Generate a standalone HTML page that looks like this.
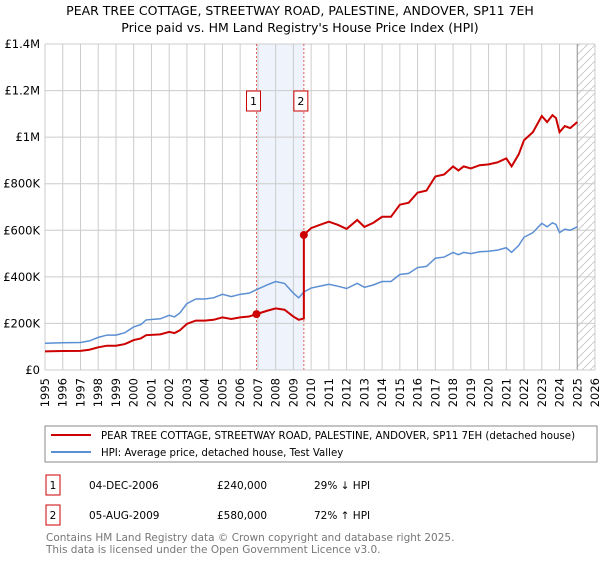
<!DOCTYPE html>
<html><head><meta charset="utf-8"><style>
body{margin:0;background:#fff;}
svg text{font-family:"DejaVu Sans","Liberation Sans",sans-serif;}
</style></head><body>
<svg id="chart" width="600" height="560" xmlns="http://www.w3.org/2000/svg">
<text x="300" y="15" text-anchor="middle" font-size="12.5" fill="#000">PEAR TREE COTTAGE, STREETWAY ROAD, PALESTINE, ANDOVER, SP11 7EH</text>
<text x="300" y="32" text-anchor="middle" font-size="12.5" fill="#000">Price paid vs. HM Land Registry's House Price Index (HPI)</text>
<g id="plot"></g>
<g>
<rect x="45" y="426" width="552" height="36" fill="#fff" stroke="#888"/>
<line x1="51" y1="435" x2="91" y2="435" stroke="#cc0000" stroke-width="2"/>
<text x="101" y="439" font-size="10.2">PEAR TREE COTTAGE, STREETWAY ROAD, PALESTINE, ANDOVER, SP11 7EH (detached house)</text>
<line x1="51" y1="452" x2="91" y2="452" stroke="#5b8fd4" stroke-width="2"/>
<text x="101" y="456" font-size="10.2">HPI: Average price, detached house, Test Valley</text>
</g>
<g font-size="10.5">
<rect x="46" y="475" width="14" height="20" fill="#fff" stroke="#cc0000"/>
<text x="53" y="489" text-anchor="middle">1</text>
<text x="89" y="489">04-DEC-2006</text><text x="217" y="489">£240,000</text><text x="314" y="489">29% ↓ HPI</text>
<rect x="46" y="505" width="14" height="20" fill="#fff" stroke="#cc0000"/>
<text x="53" y="519" text-anchor="middle">2</text>
<text x="89" y="519">05-AUG-2009</text><text x="217" y="519">£580,000</text><text x="314" y="519">72% ↑ HPI</text>
</g>
<text x="46" y="541" font-size="10.5" fill="#777">Contains HM Land Registry data © Crown copyright and database right 2025.</text>
<text x="46" y="553" font-size="10.5" fill="#777">This data is licensed under the Open Government Licence v3.0.</text>
</svg>
<script>
const yearTicks=[1995,1996,1997,1998,1999,2000,2001,2002,2003,2004,2005,2006,2007,2008,2009,2010,2011,2012,2013,2014,2015,2016,2017,2018,2019,2020,2021,2022,2023,2024,2025,2026];
const valueTicks=[0,200000,400000,600000,800000,1000000,1200000,1400000];
const valueLabels=["£0","£200K","£400K","£600K","£800K","£1M","£1.2M","£1.4M"];
const hpiDates=[1995,1996,1997,1997.5,1998,1998.5,1999,1999.5,2000,2000.4,2000.7,2001.5,2002,2002.3,2002.6,2003,2003.5,2004,2004.5,2005,2005.5,2006,2006.5,2006.92,2007.5,2008,2008.5,2009,2009.3,2009.59,2010,2010.5,2011,2011.5,2012,2012.6,2013,2013.5,2014,2014.5,2015,2015.5,2016,2016.5,2017,2017.5,2018,2018.3,2018.6,2019,2019.5,2020,2020.5,2021,2021.3,2021.7,2022,2022.5,2023,2023.3,2023.6,2023.8,2024,2024.3,2024.6,2025];
const hpiValues=[115000,117000,118000,125000,140000,150000,150000,160000,185000,195000,215000,220000,235000,228000,245000,285000,305000,305000,310000,325000,315000,325000,330000,345000,365000,380000,372000,330000,310000,335000,352000,360000,368000,360000,350000,372000,355000,365000,380000,380000,410000,415000,440000,445000,480000,485000,505000,495000,505000,500000,508000,510000,515000,525000,505000,535000,570000,590000,630000,615000,632000,625000,590000,605000,600000,615000];
const saleDates=[2006.92,2009.59];
const salePrices=[240000,580000];
const saleLabels=["1","2"];

const NS="http://www.w3.org/2000/svg";
const X0=45,X1=595,Y0=370,Y1=44;
const xs=y=>X0+(y-1995)/(2026-1995)*(X1-X0);
const ys=v=>Y0-v/1400000*(Y0-Y1);
const g=document.getElementById('plot');
function mk(t,a,p){const e=document.createElementNS(NS,t);for(const k in a)e.setAttribute(k,a[k]);(p||g).appendChild(e);return e;}
function hpiAt(t){for(let i=1;i<hpiDates.length;i++){if(t<=hpiDates[i]){const f=(t-hpiDates[i-1])/(hpiDates[i]-hpiDates[i-1]);return hpiValues[i-1]+f*(hpiValues[i]-hpiValues[i-1]);}}return hpiValues[hpiValues.length-1];}

let sh=mk('rect',{x:xs(saleDates[0]),y:Y1,width:xs(saleDates[1])-xs(saleDates[0]),height:Y0-Y1,fill:'#eef3fc'});


valueTicks.forEach((v,i)=>{
 let l=mk('line',{x1:X0,x2:X1,y1:ys(v),y2:ys(v),stroke:'#ccc','stroke-width':1});
 
 
 let t=mk('text',{x:X0-5,y:ys(v)+4,'text-anchor':'end','font-size':11.5});
 
 
 t.textContent=valueLabels[i];
});
yearTicks.forEach(y=>{
 let l=mk('line',{x1:xs(y),x2:xs(y),y1:Y1,y2:Y0,stroke:'#ccc','stroke-width':1});
 
 
 let t=mk('text',{x:0,y:0,'text-anchor':'end','font-size':11.5,transform:`translate(${xs(y)+4},${Y0+8}) rotate(-90)`});
 
 
 t.textContent=y;
});
const lastX=xs(hpiDates[hpiDates.length-1]);
let defs=mk('defs',{});
let pat=mk('pattern',{id:'hatch',width:8,height:8,patternUnits:'userSpaceOnUse'},defs);
mk('path',{d:'M0,8 L8,0',stroke:'#ccc','stroke-width':1},pat);
let hr=mk('rect',{x:lastX,y:Y1,width:X1-lastX,height:Y0-Y1,fill:'url(#hatch)'});


let vl=mk('line',{x1:lastX,x2:lastX,y1:Y1,y2:Y0,stroke:'#999','stroke-width':1});


saleDates.forEach((d,i)=>{
 let l=mk('line',{x1:xs(d),x2:xs(d),y1:Y1,y2:Y0,stroke:'#e06060','stroke-width':1,'stroke-dasharray':'2,2'});
 
 
 let bx=xs(d)-10;
 let r=mk('rect',{x:bx,y:91,width:14,height:20,fill:'#fff',stroke:'#cc0000'});
 
 
 let t=mk('text',{x:bx+7,y:105,'text-anchor':'middle','font-size':11});
 
 
 t.textContent=saleLabels[i];
});
mk('line',{x1:X0,x2:X1,y1:Y0,y2:Y0,stroke:'#ccc'});
let hp=mk('polyline',{points:hpiDates.map((d,i)=>xs(d)+','+ys(hpiValues[i])).join(' '),fill:'none',stroke:'#5b8fd4','stroke-width':1.5});


const f1=salePrices[0]/hpiAt(saleDates[0]), f2=salePrices[1]/hpiAt(saleDates[1]);
let pts=[];
hpiDates.forEach((d,i)=>{ if(d<saleDates[1]) pts.push([d,hpiValues[i]*f1]); });
pts.push([saleDates[1],hpiAt(saleDates[1])*f1*0.95]);
pts.push([saleDates[1],salePrices[1]]);
hpiDates.forEach((d,i)=>{ if(d>saleDates[1]) pts.push([d,hpiValues[i]*f2]); });
let pr=mk('polyline',{points:pts.map(p=>xs(p[0])+','+ys(p[1])).join(' '),fill:'none',stroke:'#cc0000','stroke-width':2});


saleDates.forEach((d,i)=>{
 let c=mk('circle',{cx:xs(d),cy:ys(salePrices[i]),r:4,fill:'#cc0000'});
 
 
});
</script>
</body></html>
